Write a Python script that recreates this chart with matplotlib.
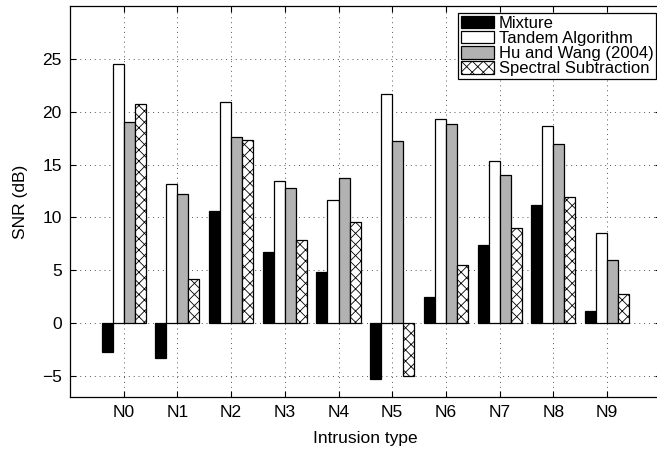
import numpy as np
from matplotlib import pyplot as plt

plt.rcParams['font.family'] = ['Liberation Sans', 'DejaVu Sans']
plt.rcParams['hatch.linewidth'] = 0.6

# SNR values (dB)
categories = ["N0", "N1", "N2", "N3", "N4", "N5", "N6", "N7", "N8", "N9"]
mixture = [-2.7, -3.3, 10.6, 6.7, 4.8, -5.3, 2.5, 7.4, 11.2, 1.1]
tandem = [24.5, 13.2, 20.9, 13.4, 11.6, 21.7, 19.3, 15.3, 18.6, 8.5]
hu_wang = [19.0, 12.2, 17.6, 12.8, 13.7, 17.2, 18.8, 14.0, 16.9, 6.0]
spectral = [20.7, 4.2, 17.3, 7.9, 9.6, -5.0, 5.5, 9.0, 11.9, 2.7]

series = [
    ("Mixture", mixture, dict(color="black")),
    ("Tandem Algorithm", tandem, dict(color="white")),
    ("Hu and Wang (2004)", hu_wang, dict(color="#b2b2b2")),
    ("Spectral Subtraction", spectral, dict(color="white", hatch="xxx")),
]

fig = plt.figure(figsize=(6.57, 4.51), dpi=100)
# right edge of the box falls just outside the picture, as in the original
ax = fig.add_axes([70 / 657, 54 / 451, 590.7 / 657, 391 / 451])

x = np.arange(1, len(categories) + 1)
w = 0.205
for i, (name, vals, style) in enumerate(series):
    ax.bar(x + (i - 1.5) * w, vals, width=w, edgecolor="black",
           linewidth=0.9, label=name, zorder=3, **style)

ax.set_xlim(0, 11)
ax.set_ylim(-7, 30)
ax.set_xticks(x)
ax.set_xticklabels(categories)
ax.set_yticks([-5, 0, 5, 10, 15, 20, 25])
ax.set_yticklabels(["\u22125", "0", "5", "10", "15", "20", "25"])

ax.grid(True, linestyle=(0, (1, 4)), color="#555555", linewidth=0.7, zorder=0)
ax.tick_params(axis="both", direction="in", length=4, width=0.8,
               top=True, right=True, labelsize=12.5, pad=6)
for s in ax.spines.values():
    s.set_linewidth(0.9)

ax.set_xlabel("Intrusion type", fontsize=12.5, labelpad=8)
ax.set_ylabel("SNR (dB)", fontsize=12.5, labelpad=10)

leg = ax.legend(loc="upper right", bbox_to_anchor=(0.9925, 0.982),
                fontsize=12, frameon=True, fancybox=False,
                edgecolor="black", framealpha=1, borderpad=0.15,
                labelspacing=0.0, handlelength=2.0, handleheight=0.8,
                handletextpad=0.3, borderaxespad=0.0)
leg.get_frame().set_linewidth(0.9)

fig.savefig("out.png", dpi=100)
